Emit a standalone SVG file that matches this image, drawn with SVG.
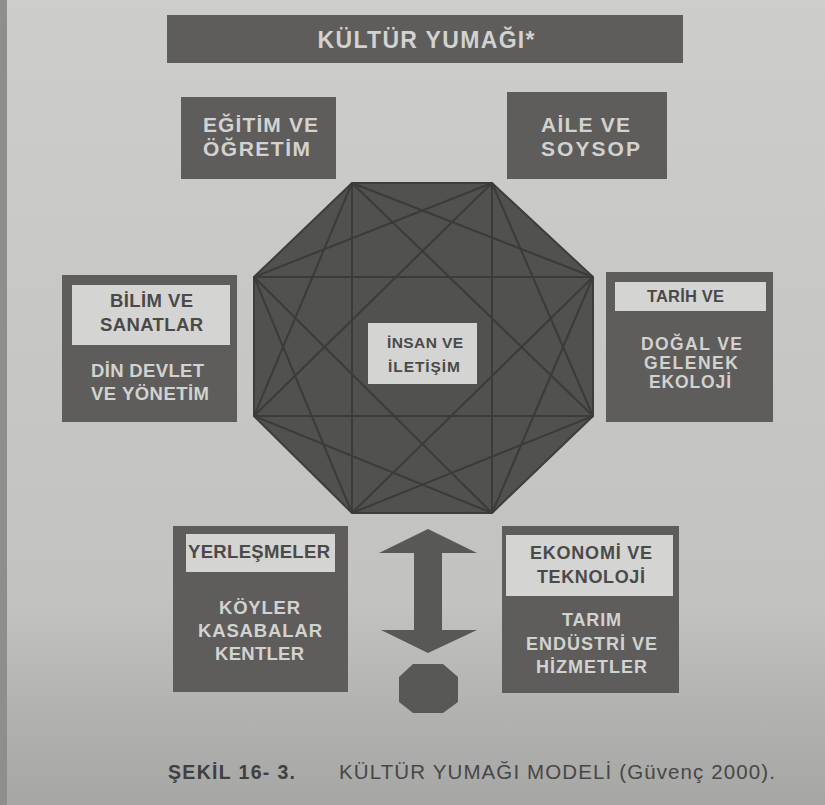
<svg xmlns="http://www.w3.org/2000/svg" width="825" height="805" viewBox="0 0 825 805">
<defs>
<linearGradient id="bg" x1="0" y1="0" x2="0" y2="1">
<stop offset="0" stop-color="#cdcdcb"/>
<stop offset="0.75" stop-color="#c2c2c0"/>
<stop offset="0.9" stop-color="#b0b0ae"/>
<stop offset="1" stop-color="#a6a6a4"/>
</linearGradient>
<style>
.box{fill:#5e5d5b}
.lite{fill:#d4d4d2}
.t{font-family:"Liberation Sans",Arial,Helvetica,sans-serif;font-weight:bold}
.tl{fill:#d2d2d0}
.td{fill:#4a4a4a}
.oct{fill:#515150;stroke:#3d3d3c;stroke-width:2;stroke-linejoin:miter}
.ln{stroke:#3b3b3a;stroke-width:2;fill:none}
.sym{fill:#585857}
</style>
</defs>
<rect width="825" height="805" fill="url(#bg)"/>
<rect x="0" y="0" width="7" height="805" fill="#8e8e8c"/>

<g id="title">
<rect class="box" x="167" y="15" width="516" height="48"/>
<text class="t tl" x="426" y="48" font-size="23" text-anchor="middle" textLength="217">KÜLTÜR YUMAĞI*</text>
</g>

<g id="egitim">
<rect class="box" x="181" y="97" width="155" height="82"/>
<text class="t tl" font-size="21"><tspan x="203" y="132" textLength="115">EĞİTİM VE</tspan><tspan x="203" y="156" textLength="107">ÖĞRETİM</tspan></text>
</g>

<g id="aile">
<rect class="box" x="507" y="92" width="160" height="87"/>
<text class="t tl" font-size="21"><tspan x="541" y="132" textLength="89">AİLE VE</tspan><tspan x="541" y="156" textLength="99">SOYSOP</tspan></text>
</g>

<g id="insan">
<polygon class="oct" points="352,183 492,183 593,277 593,416 492,513 352,513 254,416 254,277"/>
<g class="ln">
<line x1="352" y1="183" x2="593" y2="277"/>
<line x1="492" y1="183" x2="593" y2="416"/>
<line x1="593" y1="277" x2="492" y2="513"/>
<line x1="593" y1="416" x2="352" y2="513"/>
<line x1="492" y1="513" x2="254" y2="416"/>
<line x1="352" y1="513" x2="254" y2="277"/>
<line x1="254" y1="416" x2="352" y2="183"/>
<line x1="254" y1="277" x2="492" y2="183"/>
<line x1="352" y1="183" x2="352" y2="513"/>
<line x1="492" y1="183" x2="492" y2="513"/>
<line x1="254" y1="277" x2="593" y2="277"/>
<line x1="254" y1="416" x2="593" y2="416"/>
<line x1="352" y1="183" x2="593" y2="416"/>
<line x1="492" y1="183" x2="254" y2="416"/>
<line x1="593" y1="277" x2="352" y2="513"/>
<line x1="254" y1="277" x2="492" y2="513"/>
</g>
<rect class="lite" x="368" y="323" width="109" height="61"/>
<text class="t td" font-size="15.5"><tspan x="387" y="348" textLength="76">İNSAN VE</tspan><tspan x="388" y="372" textLength="72">İLETİŞİM</tspan></text>
</g>

<g id="bilim">
<rect class="box" x="62" y="275" width="175" height="147"/>
<rect class="lite" x="72" y="285" width="158" height="60"/>
<text class="t td" font-size="18.5"><tspan x="110" y="307" textLength="83">BİLİM VE</tspan><tspan x="100" y="331" textLength="103">SANATLAR</tspan></text>
<text class="t tl" font-size="18.5"><tspan x="91" y="377" textLength="113">DİN DEVLET</tspan><tspan x="91" y="400" textLength="118">VE YÖNETİM</tspan></text>
</g>

<g id="tarih">
<rect class="box" x="606" y="272" width="167" height="150"/>
<rect class="lite" x="615" y="282" width="151" height="29"/>
<text class="t td" font-size="16.5" x="647" y="302" textLength="77">TARİH VE</text>
<text class="t tl" font-size="17.5"><tspan x="641" y="350" textLength="101">DOĞAL VE</tspan><tspan x="644" y="369" textLength="94">GELENEK</tspan><tspan x="649" y="388" textLength="82">EKOLOJİ</tspan></text>
</g>

<g id="yerlesmeler">
<rect class="box" x="173" y="526" width="175" height="166"/>
<rect class="lite" x="186" y="534" width="149" height="38"/>
<text class="t td" font-size="18.5" x="188" y="558" textLength="142">YERLEŞMELER</text>
<text class="t tl" font-size="18.5"><tspan x="219" y="614" textLength="81">KÖYLER</tspan><tspan x="198" y="637" textLength="124">KASABALAR</tspan><tspan x="215" y="660" textLength="89">KENTLER</tspan></text>
</g>

<g id="ekonomi">
<rect class="box" x="502" y="526" width="177" height="167"/>
<rect class="lite" x="506" y="535" width="167" height="61"/>
<text class="t td" font-size="18"><tspan x="530" y="559" textLength="122">EKONOMİ VE</tspan><tspan x="537" y="583" textLength="108">TEKNOLOJİ</tspan></text>
<text class="t tl" font-size="18"><tspan x="562" y="626" textLength="59">TARIM</tspan><tspan x="526" y="650" textLength="131">ENDÜSTRİ VE</tspan><tspan x="536" y="673" textLength="111">HİZMETLER</tspan></text>
</g>

<g id="connectors">
<path class="sym" d="M428,529 L477,553 L442,553 L442,630 L477,630 L428,653 L381,630 L414,630 L414,553 L379,553 Z"/>
</g>

<g id="small-oct">
<polygon class="sym" points="413,664 443,664 458,677 458,702 443,713 413,713 399,702 399,677"/>
</g>

<g id="caption">
<text class="t" font-size="19.5" fill="#404040" x="168" y="779" textLength="127">ŞEKİL 16- 3.</text>
<text font-family="'Liberation Sans',Arial,Helvetica,sans-serif" font-size="20.5" fill="#474747" x="339" y="779" textLength="436">KÜLTÜR YUMAĞI MODELİ (Güvenç 2000).</text>
</g>
</svg>
